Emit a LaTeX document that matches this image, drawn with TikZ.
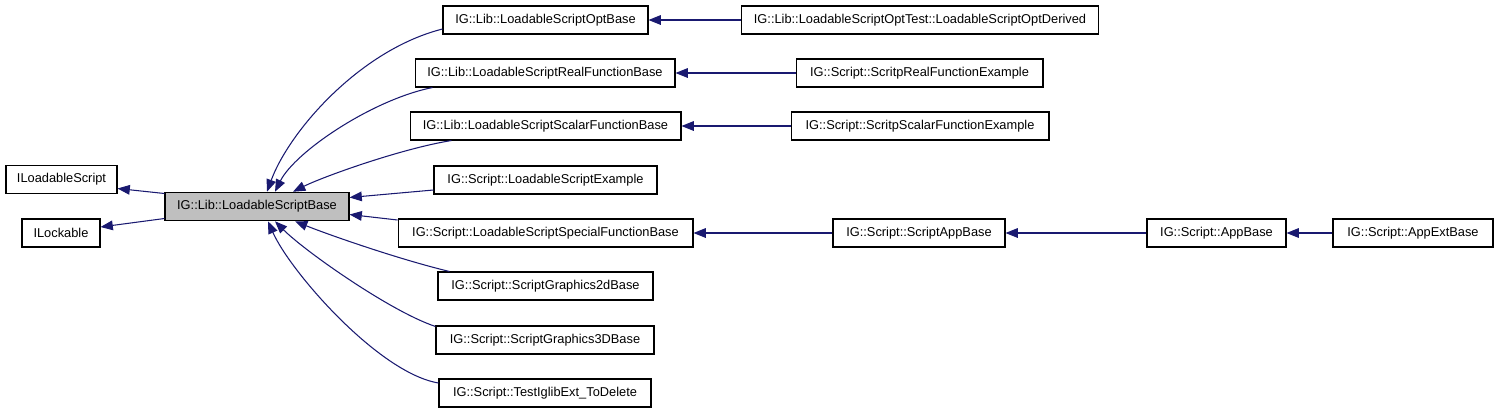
\documentclass[tikz,border=0pt]{standalone}
\usepackage{fontspec}
\setmainfont{Liberation Sans}
\usetikzlibrary{arrows.meta, positioning, calc}
\definecolor{EdgeBlue}{rgb}{0.1, 0.1, 0.44}
\definecolor{BaseGray}{rgb}{0.75, 0.75, 0.75}

\begin{document}
\begin{tikzpicture}[
    x=0.02cm, y=-0.02cm,
    font=\fontsize{7.3}{8.8}\selectfont,
    cls/.style={draw=black, line width=0.6pt, fill=white, inner sep=0pt,
        minimum height=0.56cm, align=center},
    clsbase/.style={cls, fill=BaseGray, minimum height=0.57cm},
    edge/.style={-{Triangle[length=7pt, width=5.5pt]}, line width=0.6pt, EdgeBlue},
]
\useasboundingbox (0,0) rectangle (1499,413);

% interfaces
\node[cls, minimum width=2.22cm] (iload) at (61.5,179.5) {ILoadableScript};
\node[cls, minimum width=1.56cm] (ilock) at (61,233) {ILockable};

% clase base
\node[clsbase, minimum width=3.68cm] (base) at (257,206.5) {IG::Lib::LoadableScriptBase};

% derivadas directas
\node[cls, minimum width=4.10cm] (optbase) at (545.5,20) {IG::Lib::LoadableScriptOptBase};
\node[cls, minimum width=5.20cm] (realbase) at (545,73) {IG::Lib::LoadableScriptRealFunctionBase};
\node[cls, minimum width=5.42cm] (scalarbase) at (545.5,126) {IG::Lib::LoadableScriptScalarFunctionBase};
\node[cls, minimum width=4.46cm] (example) at (545.5,180) {IG::Script::LoadableScriptExample};
\node[cls, minimum width=5.90cm] (special) at (545.5,233) {IG::Script::LoadableScriptSpecialFunctionBase};
\node[cls, minimum width=4.30cm] (gtwo) at (545.5,286) {IG::Script::ScriptGraphics2dBase};
\node[cls, minimum width=4.36cm] (gthree) at (545,340) {IG::Script::ScriptGraphics3DBase};
\node[cls, minimum width=4.24cm] (testext) at (545,393) {IG::Script::TestIglibExt\_ToDelete};

% segundo nivel
\node[cls, minimum width=7.16cm] (optderived) at (920,20) {IG::Lib::LoadableScriptOptTest::LoadableScriptOptDerived};
\node[cls, minimum width=4.94cm] (realex) at (919.5,73) {IG::Script::ScritpRealFunctionExample};
\node[cls, minimum width=5.16cm] (scalarex) at (920,126) {IG::Script::ScritpScalarFunctionExample};
\node[cls, minimum width=3.44cm] (scriptapp) at (919,233) {IG::Script::ScriptAppBase};
\node[cls, minimum width=2.78cm] (appbase) at (1216.5,233) {IG::Script::AppBase};
\node[cls, minimum width=3.20cm] (appext) at (1413,233) {IG::Script::AppExtBase};

% herencia hacia las interfaces
\draw[edge] ($(base.west)+(0,-13)$) -- ($(iload.east)+(0,9)$);
\draw[edge] ($(base.west)+(0,12)$) -- ($(ilock.east)+(0,-6)$);

% herencia hacia la base
\draw[edge] ($(optbase.west)+(0,9)$) .. controls +(-83,21) and +(22,-60) .. ($(base.north)+(10,0)$);
\draw[edge] ($(realbase.south west)+(18,0)$) .. controls +(-60,12) and +(20,-40) .. ($(base.north)+(18,0)$);
\draw[edge] ($(scalarbase.south west)+(42,0)$) .. controls +(-50,8) and +(30,-15) .. ($(base.north)+(36,0)$);
\draw[edge] ($(example.west)+(0,10)$) -- ($(base.east)+(0,-9)$);
\draw[edge] ($(special.west)+(0,-13)$) -- ($(base.east)+(0,8)$);
\draw[edge] ($(gtwo.north west)+(12,0)$) .. controls +(-50,-12) and +(35,14) .. ($(base.south)+(38,0)$);
\draw[edge] ($(gthree.north west)+(0,1)$) .. controls +(-45,-15) and +(30,30) .. ($(base.south)+(18,0)$);
\draw[edge] ($(testext.west)+(0,-10)$) .. controls +(-60,-10) and +(22,50) .. ($(base.south)+(11,0)$);

% cadenas horizontales
\foreach \d/\b in {optderived/optbase, realex/realbase, scalarex/scalarbase,
                   scriptapp/special, appbase/scriptapp, appext/appbase}
    \draw[edge] (\d.west) -- (\b.east);

\end{tikzpicture}
\end{document}
